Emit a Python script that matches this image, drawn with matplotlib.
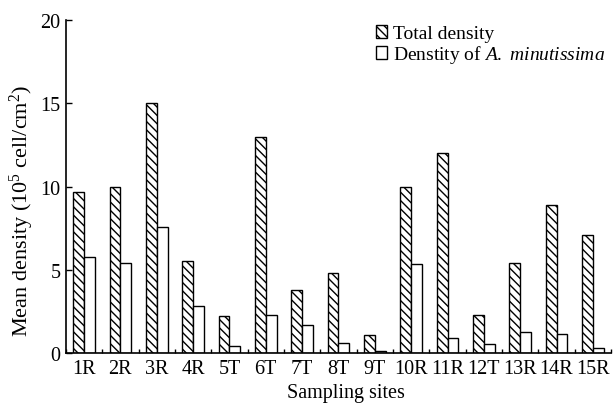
import matplotlib
matplotlib.use("Agg")
import matplotlib.pyplot as plt
import numpy as np

plt.rcParams['font.family'] = ['Liberation Serif', 'DejaVu Serif']
plt.rcParams['mathtext.fontset'] = 'custom'
plt.rcParams['mathtext.rm'] = 'Liberation Serif'
plt.rcParams['mathtext.it'] = 'Liberation Serif:italic'
plt.rcParams['hatch.linewidth'] = 1.0

sites = ['1R', '2R', '3R', '4R', '5T', '6T', '7T', '8T', '9T', '10R',
         '11R', '12T', '13R', '14R', '15R']
total_density = [9.7, 10.0, 15.0, 5.5, 2.2, 13.0, 3.8, 4.8, 1.1, 10.0,
                 12.0, 2.3, 5.4, 8.9, 7.1]
minutissima_density = [5.75, 5.4, 7.6, 2.8, 0.4, 2.3, 1.7, 0.6, 0.15, 5.35,
                       0.9, 0.55, 1.25, 1.15, 0.3]

fs = 14.5

fig = plt.figure(figsize=(6.16, 4.06), dpi=100)
ax = fig.add_axes([0.107, 0.128, 0.885, 0.82])

x = np.arange(len(sites))
w = 0.3
ax.bar(x - w / 2, total_density, width=w, facecolor='white', edgecolor='black',
       hatch='\\\\\\\\', linewidth=1.0, label='Total density')
ax.bar(x + w / 2, minutissima_density, width=w, facecolor='white', edgecolor='black',
       linewidth=1.0, label='Denstity of $\\it{A.}$ $\\it{minutissima}$')

ax.set_xlim(-0.5, len(sites) - 0.5)
ax.set_ylim(0, 20)
ax.set_yticks([0, 5, 10, 15, 20])
ax.set_xticks(x)
ax.set_xticklabels(sites)
ax.set_xticks(np.arange(len(sites) + 1) - 0.5, minor=True)
ax.tick_params(axis='x', which='major', length=0, pad=4, labelsize=fs)
ax.tick_params(axis='x', which='minor', direction='in', length=3, width=1)
ax.tick_params(axis='y', direction='in', length=4, width=1, pad=4, labelsize=fs)

for s in ['top', 'right']:
    ax.spines[s].set_visible(False)
for s in ['left', 'bottom']:
    ax.spines[s].set_linewidth(1.2)

ax.set_xlabel('Sampling sites', fontsize=fs)
ax.xaxis.set_label_coords(0.514, -0.09)
ax.set_ylabel('Mean density (10$^5$ cell/cm$^2$)', fontsize=16)
ax.yaxis.set_label_coords(-0.055, 0.43)

ax.legend(loc='upper left', bbox_to_anchor=(0.61, 0.935), bbox_transform=fig.transFigure,
          frameon=False, fontsize=14, handlelength=0.6, handleheight=0.6,
          handletextpad=0.3, labelspacing=0.05, borderpad=0, borderaxespad=0)

fig.savefig('out.png', dpi=100)
